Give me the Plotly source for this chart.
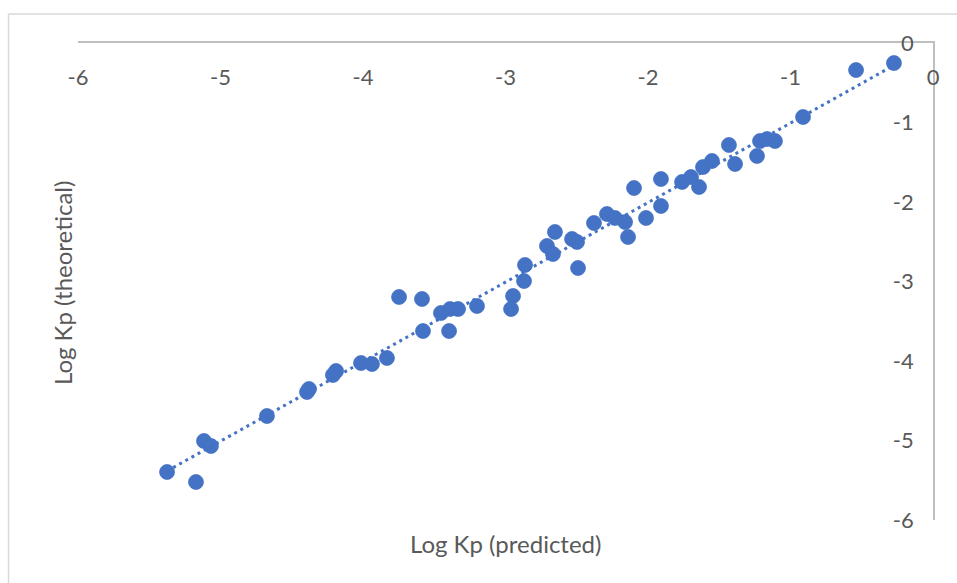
import numpy as np
import plotly.graph_objects as go

# Data
log_kp_predicted = [
    -5.375, -5.172, -5.116, -5.067, -4.674, -4.393, -4.379, -4.211, -4.189, -4.014,
    -3.937, -3.832, -3.579, -3.396, -3.747, -3.586, -3.453, -3.389, -3.333, -3.200,
    -2.947, -2.961, -2.870, -2.863, -2.709, -2.667, -2.653, -2.533, -2.498, -2.491,
    -2.379, -2.288, -2.232, -2.161, -2.140, -2.098, -2.014, -1.909, -1.909, -1.761,
    -1.698, -1.642, -1.614, -1.551, -1.432, -1.389, -1.235, -1.214, -1.165, -1.109,
    -0.912, -0.540, -0.274,
]
log_kp_theoretical = [
    -5.396, -5.522, -5.006, -5.069, -4.692, -4.390, -4.352, -4.176, -4.126, -4.025,
    -4.038, -3.962, -3.623, -3.623, -3.195, -3.220, -3.396, -3.346, -3.346, -3.308,
    -3.182, -3.346, -2.994, -2.792, -2.553, -2.654, -2.377, -2.465, -2.503, -2.830,
    -2.264, -2.151, -2.201, -2.252, -2.440, -1.824, -2.201, -1.711, -2.050, -1.748,
    -1.686, -1.811, -1.560, -1.484, -1.283, -1.522, -1.421, -1.233, -1.208, -1.233,
    -0.931, -0.340, -0.252,
]
tick_values = [-6, -5, -4, -3, -2, -1, 0]
tick_labels = ["-6", "-5", "-4", "-3", "-2", "-1", "0"]
x_title = "Log Kp (predicted)"
y_title = "Log Kp (theoretical)"

BLUE = "#4472C4"
GRAY_TEXT = "#595959"
AXIS_LINE = "#BFBFBF"
FONT = "Lato"
TICK_SIZE = 22
TITLE_SIZE = 24

# Linear trendline fitted to the data
xs = np.array(log_kp_predicted)
ys = np.array(log_kp_theoretical)
slope, intercept = np.polyfit(xs, ys, 1)
tx = np.array([xs.min(), xs.max()])
ty = slope * tx + intercept

fig = go.Figure()
fig.add_trace(go.Scatter(
    x=log_kp_predicted, y=log_kp_theoretical, mode="markers",
    marker=dict(size=15, color=BLUE, line=dict(width=0.75, color=BLUE)),
    showlegend=False, hoverinfo="x+y",
))
fig.add_trace(go.Scatter(
    x=tx, y=ty, mode="lines",
    line=dict(color=BLUE, width=3, dash="3px,4px"),
    showlegend=False, hoverinfo="skip",
))

W, H = 957, 583
ml, mr, mt, mb = 78, 24, 43, 63
pw, ph = W - ml - mr, H - mt - mb

def px_to_paper_x(px):
    return (px - ml) / pw

def py_to_paper_y(py):
    return (H - mb - py) / ph

fig.update_layout(
    width=W, height=H,
    margin=dict(l=ml, r=mr, t=mt, b=mb),
    paper_bgcolor="white", plot_bgcolor="white",
    font=dict(family=FONT, color=GRAY_TEXT, size=TICK_SIZE),
    xaxis=dict(
        range=[-6, 0], side="top", showgrid=False, zeroline=False,
        showline=True, linecolor=AXIS_LINE, linewidth=1.5,
        tickvals=tick_values, ticktext=tick_labels, ticks="",
        ticklabelposition="inside", ticklabeloverflow="allow",
        ticklabelstandoff=28,
        tickfont=dict(family=FONT, size=TICK_SIZE, color=GRAY_TEXT),
        fixedrange=True,
    ),
    yaxis=dict(
        range=[-6, 0], side="right", showgrid=False, zeroline=False,
        showline=True, linecolor=AXIS_LINE, linewidth=1.5,
        tickvals=tick_values, ticktext=tick_labels, ticks="",
        ticklabelposition="inside", ticklabeloverflow="allow",
        ticklabelstandoff=21,
        tickfont=dict(family=FONT, size=TICK_SIZE, color=GRAY_TEXT),
        fixedrange=True,
    ),
    shapes=[
        dict(type="line", xref="paper", yref="paper",
             x0=px_to_paper_x(8.5), x1=px_to_paper_x(960),
             y0=py_to_paper_y(14), y1=py_to_paper_y(14),
             line=dict(color="#D9D9D9", width=1.5)),
        dict(type="line", xref="paper", yref="paper",
             x0=px_to_paper_x(8.5), x1=px_to_paper_x(8.5),
             y0=py_to_paper_y(14), y1=py_to_paper_y(590),
             line=dict(color="#D9D9D9", width=1.5)),
    ],
    annotations=[
        dict(text=x_title, xref="paper", yref="paper",
             x=px_to_paper_x(505), y=py_to_paper_y(543),
             showarrow=False, xanchor="center", yanchor="middle",
             font=dict(family=FONT, size=TITLE_SIZE, color=GRAY_TEXT)),
        dict(text=y_title, xref="paper", yref="paper",
             x=px_to_paper_x(62), y=py_to_paper_y(283),
             showarrow=False, xanchor="center", yanchor="middle", textangle=-90,
             font=dict(family=FONT, size=TITLE_SIZE, color=GRAY_TEXT)),
    ],
)

fig.write_html("out.html")
